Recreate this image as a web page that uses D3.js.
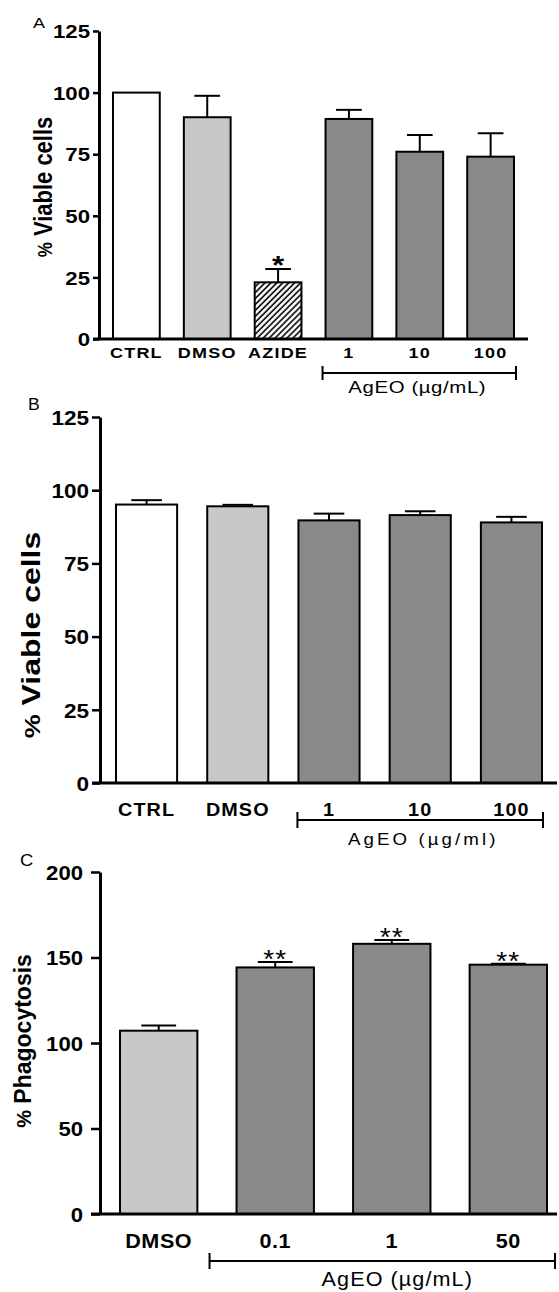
<!DOCTYPE html>
<html>
<head>
<meta charset="utf-8">
<script src="https://cdn.jsdelivr.net/npm/d3@7"></script>
<style>
  body { margin: 0; background: #fff; }
  svg { display: block; }
</style>
</head>
<body>
<svg id="chart" width="559" height="1292"></svg>
<script>
// Panel A - % viable cells (with azide)
var catsA = ["CTRL", "DMSO", "AZIDE", "1", "10", "100"];
var groupA = ["ctrl", "dmso", "azide", "ageo", "ageo", "ageo"];
var meanA = [100, 90, 23, 89.3, 76, 74];
var semA = [0, 8.7, 5.4, 3.7, 6.8, 9.5];
var sigA = ["", "", "*", "", "", ""];
var ticksA = [0, 25, 50, 75, 100, 125];

// Panel B - % viable cells
var catsB = ["CTRL", "DMSO", "1", "10", "100"];
var groupB = ["ctrl", "dmso", "ageo", "ageo", "ageo"];
var meanB = [95.1, 94.5, 89.7, 91.5, 89];
var semB = [1.5, 0.5, 2.3, 1.3, 1.9];
var sigB = ["", "", "", "", ""];
var ticksB = [0, 25, 50, 75, 100, 125];

// Panel C - % phagocytosis
var catsC = ["DMSO", "0.1", "1", "50"];
var groupC = ["dmso", "ageo", "ageo", "ageo"];
var meanC = [107.2, 144.2, 158, 145.8];
var semC = [3.1, 3.1, 2.2, 0.6];
var sigC = ["", "**", "**", "**"];
var ticksC = [0, 50, 100, 150, 200];

var FONT = "'Liberation Sans', Arial, Helvetica, sans-serif";

var svg = d3.select("#chart");

// hatch for azide bar
svg.append("defs").append("pattern")
    .attr("id", "hatch")
    .attr("patternUnits", "userSpaceOnUse")
    .attr("width", 4.2)
    .attr("height", 4.2)
    .attr("patternTransform", "rotate(45)")
    .call(function (p) {
        p.append("rect").attr("width", 4.2).attr("height", 4.2).attr("fill", "#fff");
        p.append("line").attr("x1", 1).attr("y1", 0).attr("x2", 1).attr("y2", 4.2)
            .attr("stroke", "#000").attr("stroke-width", 1.6);
    });

var fills = {
    ctrl: "#ffffff",
    dmso: "#c8c8c8",
    azide: "url(#hatch)",
    ageo: "#898989"
};

function drawPanel(p) {
    var g = svg.append("g");

    var x = d3.scaleBand()
        .domain(p.cats)
        .range(p.xRange)
        .paddingInner(p.padInner)
        .paddingOuter(0);

    var y = d3.scaleLinear()
        .domain([0, p.ticks[p.ticks.length - 1]])
        .range(p.yRange);

    var bw = x.bandwidth();

    // error bars (drawn under the bar outline)
    var err = g.selectAll("g.err")
        .data(p.cats.filter(function (d, i) { return p.sem[i] > 0; }))
        .enter().append("g").attr("class", "err");
    err.append("line")
        .attr("x1", function (d) { return x(d) + bw / 2; })
        .attr("x2", function (d) { return x(d) + bw / 2; })
        .attr("y1", function (d) { var i = p.cats.indexOf(d); return y(p.mean[i]); })
        .attr("y2", function (d) { var i = p.cats.indexOf(d); return y(p.mean[i] + p.sem[i]); })
        .attr("stroke", "#000").attr("stroke-width", 2);
    err.append("line")
        .attr("x1", function (d) { return x(d) + bw / 2 - bw * p.capFrac / 2; })
        .attr("x2", function (d) { return x(d) + bw / 2 + bw * p.capFrac / 2; })
        .attr("y1", function (d) { var i = p.cats.indexOf(d); return y(p.mean[i] + p.sem[i]); })
        .attr("y2", function (d) { var i = p.cats.indexOf(d); return y(p.mean[i] + p.sem[i]); })
        .attr("stroke", "#000").attr("stroke-width", 2);

    // bars
    g.selectAll("rect.bar")
        .data(p.cats)
        .enter().append("rect")
        .attr("class", "bar")
        .attr("x", function (d) { return x(d); })
        .attr("y", function (d, i) { return y(p.mean[i]); })
        .attr("width", bw)
        .attr("height", function (d, i) { return y(0) - y(p.mean[i]); })
        .attr("fill", function (d, i) { return fills[p.group[i]]; })
        .attr("stroke", "#000")
        .attr("stroke-width", 2);

    // significance marks
    g.selectAll("text.sig")
        .data(p.cats)
        .enter().append("text")
        .attr("class", "sig")
        .attr("transform", function (d, i) {
            var top = y(p.mean[i] + p.sem[i]);
            return "translate(" + (x(d) + bw / 2) + "," + (top - p.sigGap + 0.42 * p.sigSize) + ") scale(" + p.sx + ",1)";
        })
        .attr("text-anchor", "middle")
        .attr("font-family", FONT)
        .attr("font-size", p.sigSize)
        .attr("font-weight", p.sigWeight)
        .attr("letter-spacing", p.sigSpacing)
        .text(function (d, i) { return p.sig[i]; });

    // y axis
    var yAxis = d3.axisLeft(y)
        .tickValues(p.ticks)
        .tickSize(p.tickLen)
        .tickSizeOuter(0)
        .tickPadding(0);
    var ya = g.append("g")
        .attr("transform", "translate(" + p.axisX + ",0)")
        .call(yAxis);
    ya.select(".domain").attr("stroke-width", 3).attr("stroke", "#000");
    ya.selectAll(".tick line").attr("stroke-width", 2.5).attr("stroke", "#000");
    ya.selectAll(".tick text")
        .attr("x", -p.labelGap / p.sx)
        .attr("dy", "0.36em")
        .attr("transform", "scale(" + p.sx + ",1)")
        .attr("font-family", FONT)
        .attr("font-size", p.tickSize)
        .attr("font-weight", "bold")
        .attr("fill", "#000");

    // x baseline
    g.append("line")
        .attr("x1", p.axisX - p.tickLen)
        .attr("x2", p.xEnd)
        .attr("y1", y(0))
        .attr("y2", y(0))
        .attr("stroke", "#000")
        .attr("stroke-width", 3);

    // category labels
    g.selectAll("text.cat")
        .data(p.cats)
        .enter().append("text")
        .attr("class", "cat")
        .attr("transform", function (d) {
            return "translate(" + (x(d) + bw / 2) + "," + p.catY + ") scale(" + p.sx + ",1)";
        })
        .attr("text-anchor", "middle")
        .attr("font-family", FONT)
        .attr("font-size", p.catSize)
        .attr("font-weight", "bold")
        .attr("letter-spacing", p.catSpacing)
        .text(function (d) { return d; });

    // bracket for AgEO doses
    var b0 = p.cats[p.bracket[0]], b1 = p.cats[p.bracket[1]];
    var bx1 = x(b0) - p.brPad[0], bx2 = x(b1) + bw + p.brPad[1];
    g.append("path")
        .attr("d", "M" + bx1 + "," + (p.brY - p.brTick) + "V" + (p.brY + p.brTick) +
            "M" + bx1 + "," + p.brY + "H" + bx2 +
            "M" + bx2 + "," + (p.brY - p.brTick) + "V" + (p.brY + p.brTick))
        .attr("fill", "none")
        .attr("stroke", "#000")
        .attr("stroke-width", 2);
    g.append("text")
        .attr("transform", "translate(" + ((bx1 + bx2) / 2 + p.brTextDx) + "," + p.brTextY + ") scale(" + p.sx + ",1)")
        .attr("text-anchor", "middle")
        .attr("font-family", FONT)
        .attr("font-size", p.brTextSize)
        .attr("letter-spacing", p.brSpacing)
        .text(p.brText);

    // y title
    var yt = g.append("text")
        .attr("transform", "translate(" + p.yTitle[0] + "," + p.yTitle[1] + ") scale(" + p.yTitleSx + ",1) rotate(-90)")
        .attr("text-anchor", "middle")
        .attr("font-family", FONT)
        .attr("font-weight", "bold")
        .attr("font-size", p.yTitleSize);
    yt.append("tspan").attr("font-size", p.pctSize).text("%");
    yt.append("tspan").text(p.yTitleText);

    // panel letter
    g.append("text")
        .attr("transform", "translate(" + p.letterPos[0] + "," + p.letterPos[1] + ") scale(" + p.sx + ",1)")
        .attr("font-family", FONT)
        .attr("font-size", p.letterSize)
        .text(p.letter);
}

drawPanel({
    cats: catsA, group: groupA, mean: meanA, sem: semA, sig: sigA, ticks: ticksA,
    xRange: [113, 514], padInner: 0.34, yRange: [339, 31],
    axisX: 99, xEnd: 528, tickLen: 6, labelGap: 9, sx: 1.2,
    tickSize: 18.5, catSize: 15, catSpacing: 1, catY: 358,
    capFrac: 0.55, sigSize: 26, sigWeight: "bold", sigGap: 6, sigSpacing: 0,
    bracket: [3, 5], brPad: [3, 2], brY: 373, brTick: 7, brTextY: 393, brTextDx: -2,
    brText: "AgEO (\u00b5g/mL)", brTextSize: 17, brSpacing: 0.5,
    yTitle: [52, 187], yTitleSx: 1.2, yTitleSize: 22, pctSize: 17, yTitleText: " Viable cells",
    letter: "A", letterPos: [33, 28], letterSize: 15
});

drawPanel({
    cats: catsB, group: groupB, mean: meanB, sem: semB, sig: sigB, ticks: ticksB,
    xRange: [116, 542], padInner: 0.33, yRange: [783, 417],
    axisX: 100, xEnd: 557, tickLen: 8, labelGap: 11, sx: 1.1,
    tickSize: 20.5, catSize: 18, catSpacing: 1, catY: 816,
    capFrac: 0.5, sigSize: 24, sigWeight: "normal", sigGap: 5, sigSpacing: 0,
    bracket: [2, 4], brPad: [1, 1], brY: 820, brTick: 8, brTextY: 845, brTextDx: 3,
    brText: "AgEO (\u00b5g/ml)", brTextSize: 17, brSpacing: 2.8,
    yTitle: [40, 635], yTitleSx: 0.8, yTitleSize: 32, pctSize: 27, yTitleText: "  Viable cells",
    letter: "B", letterPos: [28, 410], letterSize: 16
});

drawPanel({
    cats: catsC, group: groupC, mean: meanC, sem: semC, sig: sigC, ticks: ticksC,
    xRange: [120, 547], padInner: 0.336, yRange: [1214, 872],
    axisX: 100, xEnd: 557, tickLen: 9, labelGap: 17, sx: 1.08,
    tickSize: 20.5, catSize: 20, catSpacing: 0.5, catY: 1248,
    capFrac: 0.45, sigSize: 26, sigWeight: "normal", sigGap: 5, sigSpacing: 1,
    bracket: [1, 3], brPad: [27, 8], brY: 1261, brTick: 8, brTextY: 1286, brTextDx: 15,
    brText: "AgEO (\u00b5g/mL)", brTextSize: 20, brSpacing: 1,
    yTitle: [31, 1041], yTitleSx: 1.0, yTitleSize: 23, pctSize: 20, yTitleText: " Phagocytosis",
    letter: "C", letterPos: [20, 866], letterSize: 17
});
</script>
</body>
</html>
